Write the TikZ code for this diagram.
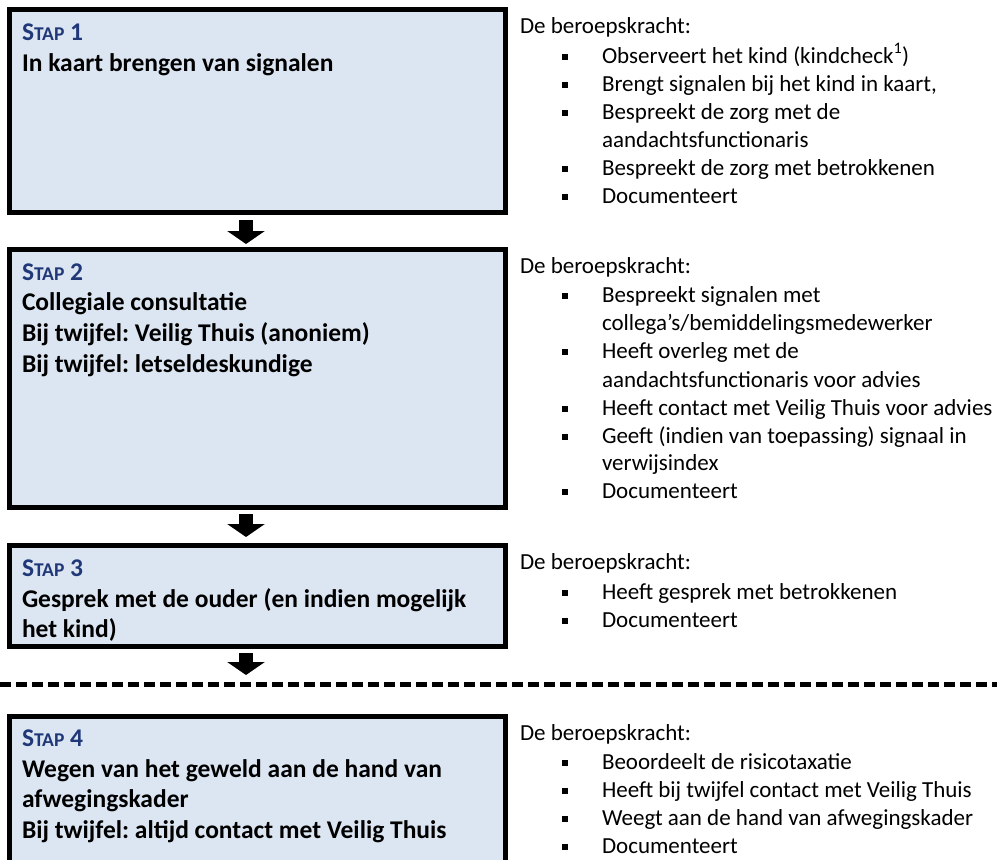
\documentclass[tikz,border=0pt]{standalone}
\usepackage{fontspec}
\setmainfont{Carlito}
\usetikzlibrary{arrows.meta,calc}
\frenchspacing
\definecolor{boxfill}{RGB}{220,230,242}
\definecolor{stapblue}{RGB}{32,56,120}
\newcommand\bul{\makebox[40pt][l]{\rule[3pt]{6pt}{6pt}}}
\newcommand\stap[1]{{\color{stapblue}S{\fontsize{19.5}{20}\selectfont TAP} #1}}
\tikzset{
  stepbox/.style={draw=black, line width=5pt, fill=boxfill, inner sep=0pt, outer sep=0pt, minimum width=496pt, anchor=north west},
  boxtxt/.style={anchor=base west, inner sep=0pt, outer sep=0pt, font=\fontsize{25.5}{30}\selectfont\bfseries},
  lsttxt/.style={anchor=base west, inner sep=0pt, outer sep=0pt, font=\fontsize{23}{28}\selectfont},
  blockarrow/.style={line width=14pt, -{Triangle[width=37pt,length=13pt]}},
  sepline/.style={line width=4.5pt, dash pattern=on 11pt off 5pt}
}
\begin{document}
\begin{tikzpicture}[x=1pt,y=-1pt]
\useasboundingbox (0,0) rectangle (997,860);
\clip (0,0) rectangle (997,860);
% boxes
\node[stepbox, minimum height=203pt] (b1) at (9.5,9.5) {};
\node[stepbox, minimum height=258pt] (b2) at (9.5,249.5) {};
\node[stepbox, minimum height=101pt] (b3) at (9.5,545.5) {};
\node[stepbox, minimum height=190pt] (b4) at (9.5,716.5) {};
% box texts
\node[boxtxt] (t1a) at (22,40) {\stap{1}};
\node[boxtxt] (t1b) at (22,71) {In kaart brengen van signalen};
\node[boxtxt] (t2a) at (22,280) {\stap{2}};
\node[boxtxt] (t2b) at (22,310.7) {Collegiale consultatie};
\node[boxtxt] (t2c) at (22,341.4) {Bij twijfel: Veilig Thuis (anoniem)};
\node[boxtxt] (t2d) at (22,372) {Bij twijfel: letseldeskundige};
\node[boxtxt] (t3a) at (22,576) {\stap{3}};
\node[boxtxt] (t3b) at (22,607) {Gesprek met de ouder (en indien mogelijk};
\node[boxtxt] (t3c) at (22,637) {het kind)};
\node[boxtxt] (t4a) at (22,746) {\stap{4}};
\node[boxtxt] (t4b) at (22,777) {Wegen van het geweld aan de hand van};
\node[boxtxt] (t4c) at (22,807.5) {afwegingskader};
\node[boxtxt] (t4d) at (22,838) {Bij twijfel: altijd contact met Veilig Thuis};
% arrows
\draw[blockarrow] ($(b1.south)+(-11.5,7.5)$) -- ($(b2.north)+(-11.5,-5.5)$);
\draw[blockarrow] ($(b2.south)+(-11.5,6.5)$) -- ($(b3.north)+(-11.5,-8.5)$);
\draw[blockarrow] ($(b3.south)+(-11.5,6.5)$) -- ($(b4.north)+(-11.5,-41.5)$);
% dashed separator
\coordinate (dl) at (0,684.5);
\coordinate (dr) at (997,684.5);
\draw[sepline] (dl) -- (dr);
% list 1
\node[lsttxt] (l1h) at (520,33) {De beroepskracht:};
\node[lsttxt] (l1a) at (562,63) {\bul Observeert het kind (kindcheck\textsuperscript{1})};
\node[lsttxt] (l1b) at (562,91) {\bul Brengt signalen bij het kind in kaart,};
\node[lsttxt] (l1c) at (562,119) {\bul Bespreekt de zorg met de};
\node[lsttxt] (l1d) at (602,147) {aandachtsfunctionaris};
\node[lsttxt] (l1e) at (562,175) {\bul Bespreekt de zorg met betrokkenen};
\node[lsttxt] (l1f) at (562,203) {\bul Documenteert};
% list 2
\node[lsttxt] (l2h) at (520,273) {De beroepskracht:};
\node[lsttxt] (l2a) at (562,302) {\bul Bespreekt signalen met};
\node[lsttxt] (l2b) at (602,330) {collega’s/bemiddelingsmedewerker};
\node[lsttxt] (l2c) at (562,358) {\bul Heeft overleg met de};
\node[lsttxt] (l2d) at (602,387) {aandachtsfunctionaris voor advies};
\node[lsttxt] (l2e) at (562,415) {\bul Heeft contact met Veilig Thuis voor advies};
\node[lsttxt] (l2f) at (562,443) {\bul Geeft (indien van toepassing) signaal in};
\node[lsttxt] (l2g) at (602,470) {verwijsindex};
\node[lsttxt] (l2h2) at (562,498) {\bul Documenteert};
% list 3
\node[lsttxt] (l3h) at (520,569) {De beroepskracht:};
\node[lsttxt] (l3a) at (562,599) {\bul Heeft gesprek met betrokkenen};
\node[lsttxt] (l3b) at (562,627) {\bul Documenteert};
% list 4
\node[lsttxt] (l4h) at (520,740) {De beroepskracht:};
\node[lsttxt] (l4a) at (562,769) {\bul Beoordeelt de risicotaxatie};
\node[lsttxt] (l4b) at (562,797) {\bul Heeft bij twijfel contact met Veilig Thuis};
\node[lsttxt] (l4c) at (562,825) {\bul Weegt aan de hand van afwegingskader};
\node[lsttxt] (l4d) at (562,853) {\bul Documenteert};
\end{tikzpicture}
\end{document}
